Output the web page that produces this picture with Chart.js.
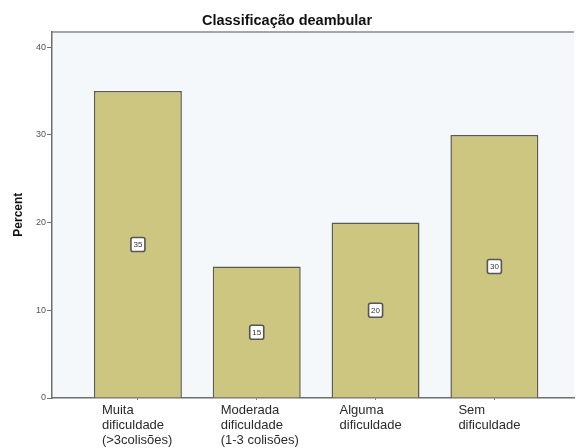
<!DOCTYPE html>
<html>
<head>
<meta charset="utf-8">
<script src="https://cdn.jsdelivr.net/npm/chart.js@4.4.1/dist/chart.umd.min.js"></script>
<style>
html,body{margin:0;padding:0;background:#fff;}
#wrap{width:576px;height:448px;}
</style>
</head>
<body>
<div id="wrap"><canvas id="c" width="576" height="448"></canvas></div>
<script>
const chartTitle = "Classificação deambular";
const yTitle = "Percent";
const categories = [
  ["Muita", "dificuldade", "(>3colisões)"],
  ["Moderada", "dificuldade", "(1-3 colisões)"],
  ["Alguma", "dificuldade"],
  ["Sem", "dificuldade"]
];
const percentValues = [35, 15, 20, 30];
const yTicks = [0, 10, 20, 30, 40];

const FONT = "'Liberation Sans', Arial, sans-serif";

const bgPlugin = {
  id: 'bg',
  beforeDraw(chart) {
    const {ctx, chartArea: a} = chart;
    ctx.save();
    ctx.fillStyle = '#f5f8fb';
    ctx.fillRect(a.left, a.top, a.right - a.left, a.bottom - a.top);
    ctx.strokeStyle = '#8a8a8a';
    ctx.lineWidth = 1.5;
    ctx.beginPath();
    ctx.moveTo(a.left, a.top + 0.5);
    ctx.lineTo(a.right, a.top + 0.5);
    ctx.stroke();
    ctx.restore();
  }
};

const valueLabelPlugin = {
  id: 'valueLabels',
  afterDatasetsDraw(chart) {
    const {ctx} = chart;
    const meta = chart.getDatasetMeta(0);
    const yScale = chart.scales.y;
    ctx.save();
    ctx.font = "8px " + FONT;
    ctx.textAlign = 'center';
    ctx.textBaseline = 'middle';
    meta.data.forEach((bar, i) => {
      const v = percentValues[i];
      const cx = bar.x;
      const cy = yScale.getPixelForValue(v / 2);
      const w = 14, h = 14;
      ctx.fillStyle = '#ffffff';
      ctx.strokeStyle = '#555';
      ctx.lineWidth = 1.6;
      ctx.beginPath();
      ctx.roundRect(cx - w / 2, cy - h / 2, w, h, 2);
      ctx.fill();
      ctx.stroke();
      ctx.fillStyle = '#333';
      ctx.fillText(String(v), cx, cy + 0.5);
    });
    ctx.restore();
  }
};

new Chart(document.getElementById('c'), {
  type: 'bar',
  data: {
    datasets: [{
      data: percentValues.map((v, i) => ({x: i, y: v})),
      backgroundColor: '#cdc680',
      borderColor: '#5a5a50',
      borderWidth: 1.5,
      barPercentage: 0.74,
      categoryPercentage: 1.0
    }]
  },
  options: {
    responsive: false,
    animation: false,
    layout: {padding: {left: 0, right: 2, top: 0, bottom: 0}},
    plugins: {
      legend: {display: false},
      tooltip: {enabled: false},
      title: {
        display: true,
        text: chartTitle,
        color: '#111',
        font: {family: FONT, size: 14.5, weight: 'bold'},
        padding: {top: 12, bottom: 2}
      }
    },
    scales: {
      x: {
        type: 'linear',
        offset: false,
        min: -0.723,
        max: 3.67,
        afterBuildTicks(scale) { scale.ticks = categories.map((c, i) => ({value: i})); },
        afterFit(scale) { scale.height = 50; },
        grid: {display: true, offset: false, drawOnChartArea: false, drawTicks: true, tickLength: 2, color: '#777'},
        border: {display: true, color: '#6f6f6f', width: 1.5},
        ticks: {
          callback: (v, i) => categories[i],
          align: 'start',
          labelOffset: -36,
          padding: 3,
          maxRotation: 0,
          autoSkip: false,
          color: '#2a2a2a',
          font: {family: FONT, size: 13, lineHeight: 1.15}
        }
      },
      y: {
        min: 0,
        max: 41.8,
        afterBuildTicks(scale) { scale.ticks = yTicks.map(v => ({value: v})); },
        afterFit(scale) { scale.width = 52; },
        grid: {display: true, drawOnChartArea: false, drawTicks: true, tickLength: 5, color: '#6f6f6f'},
        border: {display: true, color: '#6f6f6f', width: 1.5},
        title: {
          display: true,
          text: yTitle,
          color: '#111',
          font: {family: FONT, size: 12, weight: 'bold'},
          padding: {top: 11, bottom: 6}
        },
        ticks: {
          color: '#555',
          padding: 1,
          font: {family: FONT, size: 9}
        }
      }
    }
  },
  plugins: [bgPlugin, valueLabelPlugin]
});
</script>
</body>
</html>
